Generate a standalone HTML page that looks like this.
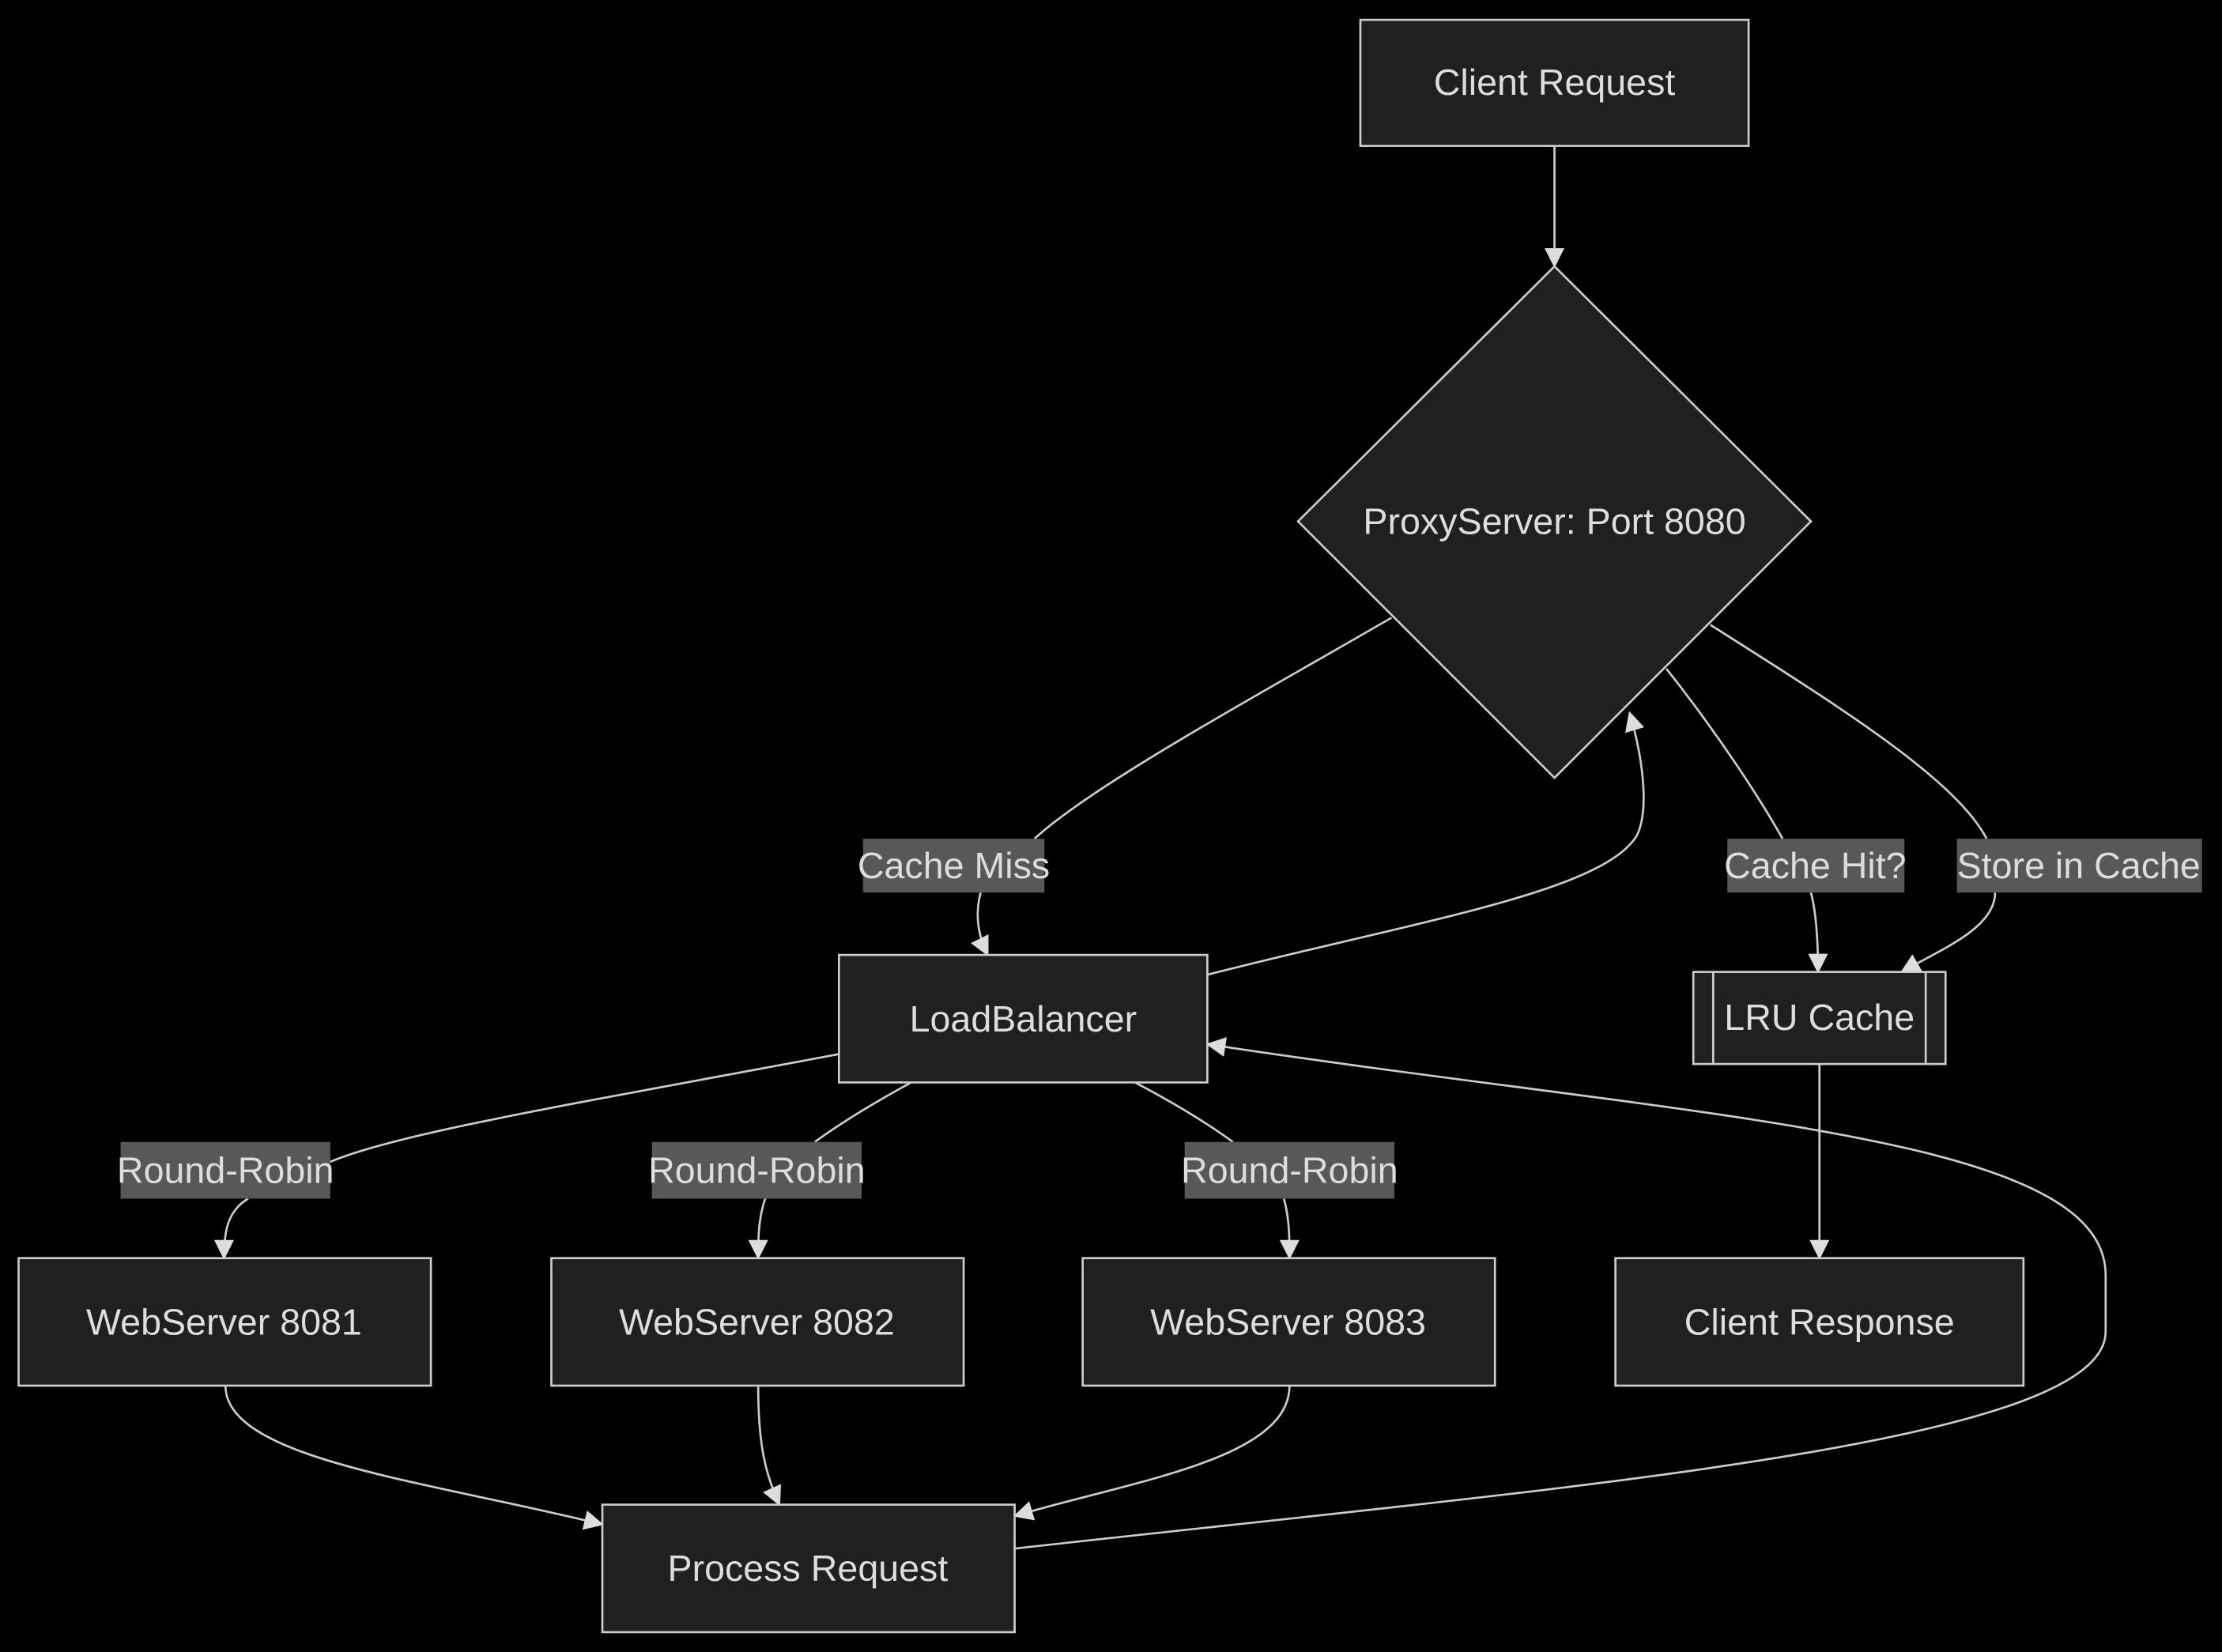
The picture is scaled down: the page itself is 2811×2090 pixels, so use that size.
<!DOCTYPE html>
<html><head><meta charset="utf-8"><style>
html,body{margin:0;padding:0;background:#000;}
svg{display:block;}
text{font-family:"Liberation Sans","DejaVu Sans",sans-serif;font-size:26px;fill:#ddd;}
</style></head><body>
<svg width="2811" height="2090" viewBox="0 0 1568 1166" xmlns="http://www.w3.org/2000/svg">
<defs>
<marker id="ah" viewBox="0 0 12 12" refX="11" refY="6" markerWidth="14" markerHeight="14" markerUnits="userSpaceOnUse" orient="auto">
<path d="M0,0 L12,6 L0,12 z" fill="#ddd"/>
</marker>
</defs>
<rect width="1568" height="1166" fill="#000"/>
<g fill="none" stroke="#ccc" stroke-width="1.5">
<path d="M1097,103 L1097,188" marker-end="url(#ah)"/>
<path d="M982,436 C880,495 770,555 730,592"/>
<path d="M692,630 C688,645 690,660 697,674" marker-end="url(#ah)"/>
<path d="M852,688 C1000,650 1130,630 1155,590 C1165,570 1158,530 1150,503" marker-end="url(#ah)"/>
<path d="M1176,472 C1210,515 1240,560 1258,592"/>
<path d="M1278,630 C1282,645 1283,665 1283,686" marker-end="url(#ah)"/>
<path d="M1207,441 C1300,500 1380,550 1402,592"/>
<path d="M1408,630 C1408,655 1370,670 1342,686" marker-end="url(#ah)"/>
<path d="M1284,751 L1284,888" marker-end="url(#ah)"/>
<path d="M592,744 C400,780 280,800 233,820"/>
<path d="M175,846 C160,855 158,870 158,888" marker-end="url(#ah)"/>
<path d="M643,764 C610,782 590,795 575,806"/>
<path d="M540,846 C535,860 535,875 535,888" marker-end="url(#ah)"/>
<path d="M801,764 C835,782 855,795 870,806"/>
<path d="M906,846 C910,860 910,875 910,888" marker-end="url(#ah)"/>
<path d="M159,978 C159,1030 300,1045 425,1076" marker-end="url(#ah)"/>
<path d="M535,978 C535,1020 540,1040 550,1062" marker-end="url(#ah)"/>
<path d="M910,978 C910,1030 800,1045 716,1070" marker-end="url(#ah)"/>
<path d="M716,1093 C1100,1050 1486,1020 1486,940 L1486,900 C1486,800 1200,790 852,737" marker-end="url(#ah)"/>
</g>
<g fill="#1f2020" stroke="#ccc" stroke-width="1.5">
<rect x="960" y="14" width="274" height="89"/>
<polygon points="1097,188 1278,368 1097,549 916,368"/>
<rect x="592" y="674" width="260" height="90"/>
<rect x="1195" y="686" width="178" height="65"/>
<line x1="1209" y1="686" x2="1209" y2="751"/>
<line x1="1359" y1="686" x2="1359" y2="751"/>
<rect x="13" y="888" width="291" height="90"/>
<rect x="389" y="888" width="291" height="90"/>
<rect x="764" y="888" width="291" height="90"/>
<rect x="1140" y="888" width="288" height="90"/>
<rect x="425" y="1062" width="291" height="90"/>
</g>
<g fill="#585858">
<rect x="609" y="592" width="128" height="38"/>
<rect x="1219" y="592" width="125" height="38"/>
<rect x="1381" y="592" width="173" height="38"/>
<rect x="85" y="806" width="148" height="40"/>
<rect x="460" y="806" width="148" height="40"/>
<rect x="836" y="806" width="148" height="40"/>
</g>
<g text-anchor="middle" dominant-baseline="central">
<text x="1097" y="58">Client Request</text>
<text x="1097" y="368">ProxyServer: Port 8080</text>
<text x="722" y="719">LoadBalancer</text>
<text x="1284" y="718">LRU Cache</text>
<text x="158" y="933">WebServer 8081</text>
<text x="534" y="933">WebServer 8082</text>
<text x="909" y="933">WebServer 8083</text>
<text x="1284" y="933">Client Response</text>
<text x="570" y="1107">Process Request</text>
<text x="673" y="611">Cache Miss</text>
<text x="1281" y="611">Cache Hit?</text>
<text x="1467" y="611">Store in Cache</text>
<text x="159" y="826">Round-Robin</text>
<text x="534" y="826">Round-Robin</text>
<text x="910" y="826">Round-Robin</text>
</g>
</svg>
</body></html>
